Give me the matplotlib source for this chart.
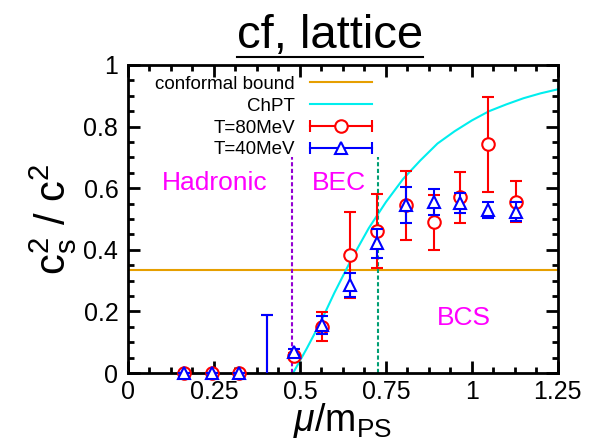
import numpy as np
import matplotlib
matplotlib.use('Agg')
import matplotlib.pyplot as plt
from matplotlib.lines import Line2D
from matplotlib.legend_handler import HandlerLine2D, HandlerTuple
from matplotlib.ticker import MultipleLocator

plt.rcParams['font.family'] = 'Liberation Sans'
plt.rcParams['mathtext.fontset'] = 'custom'
plt.rcParams['mathtext.rm'] = 'Liberation Sans'
plt.rcParams['mathtext.it'] = 'Liberation Sans:italic'

# lattice results, x = mu / m_PS
mu = [0.163, 0.243, 0.324, 0.403, 0.483, 0.565, 0.645, 0.725, 0.807, 0.890, 0.965, 1.047, 1.127]
cs2_80 = [0.0, 0.0, 0.0, -0.10, 0.055, 0.150, 0.383, 0.462, 0.544, 0.489, 0.570, 0.743, 0.556]
err_80 = [0.0, 0.0, 0.0, 0.29, 0.010, 0.047, 0.140, 0.120, 0.112, 0.090, 0.083, 0.154, 0.066]
cs2_40 = [0.0, 0.0, 0.0, -0.10, 0.069, 0.156, 0.286, 0.421, 0.545, 0.556, 0.551, 0.529, 0.524]
err_40 = [0.0, 0.0, 0.0, 0.29, 0.010, 0.030, 0.040, 0.048, 0.059, 0.042, 0.033, 0.026, 0.030]

# chiral perturbation theory curve
mu_chpt = [0.48, 0.52, 0.56, 0.60, 0.65, 0.70, 0.75, 0.80, 0.85, 0.90,
           0.95, 1.00, 1.05, 1.10, 1.15, 1.20, 1.25]
cs2_chpt = [0.0, 0.08, 0.165, 0.26, 0.37, 0.47, 0.555, 0.63, 0.69, 0.745,
            0.785, 0.82, 0.85, 0.872, 0.892, 0.908, 0.921]

conformal = 1.0 / 3.0
hadronic_edge = 0.476
bec_edge = 0.726
edge_top = 0.70

xticks = [0, 0.25, 0.5, 0.75, 1.0, 1.25]
xticklabels = ['0', '0.25', '0.5', '0.75', '1', '1.25']
yticks = [0, 0.2, 0.4, 0.6, 0.8, 1.0]
yticklabels = ['0', '0.2', '0.4', '0.6', '0.8', '1']

c_conf = '#e69f00'
c_chpt = '#00eeee'
c_80 = '#ff0000'
c_40 = '#0000ff'
c_region = '#ff00ff'

fig = plt.figure(figsize=(6.11, 4.42), dpi=100)
ax = fig.add_axes([0.2095, 0.156, 0.7035, 0.697])

ax.axhline(conformal, color=c_conf, lw=1.5, zorder=1)
ax.plot(mu_chpt, cs2_chpt, color=c_chpt, lw=1.5, zorder=1)
ax.plot([hadronic_edge, hadronic_edge], [0, edge_top], color='#9400d3',
        lw=1.5, ls=(0, (2, 1.2)), zorder=1)
ax.plot([bec_edge, bec_edge], [0, edge_top], color='#009e73',
        lw=1.5, ls=(0, (2, 1.2)), zorder=1)

# error bars are clipped, markers at zero sit on the axis
ax.errorbar(mu, cs2_80, yerr=err_80, fmt='none', ecolor=c_80, elinewidth=1.5,
            capsize=4.5, capthick=1.5, zorder=3)
ax.plot(mu, np.ma.masked_less(cs2_80, 0), ls='none', marker='o', ms=9,
        mfc='white', mec=c_80, mew=1.5, clip_on=False, zorder=4)
ax.errorbar(mu, cs2_40, yerr=err_40, fmt='none', ecolor=c_40, elinewidth=1.5,
            capsize=4.5, capthick=1.5, zorder=5)
ax.plot(mu, np.ma.masked_less(cs2_40, 0), ls='none', marker='^', ms=9,
        mfc='white', mec=c_40, mew=1.5, clip_on=False, zorder=6)

ax.text(0.253, 0.617, 'Hadronic', color=c_region, fontsize=19, ha='center', va='center')
ax.text(0.613, 0.617, 'BEC', color=c_region, fontsize=19, ha='center', va='center')
ax.text(0.977, 0.179, 'BCS', color=c_region, fontsize=19, ha='center', va='center')

ax.set_xlim(0, 1.25)
ax.set_ylim(0, 1)
ax.set_xticks(xticks)
ax.set_xticklabels(xticklabels)
ax.set_yticks(yticks)
ax.set_yticklabels(yticklabels)
ax.xaxis.set_minor_locator(MultipleLocator(0.0625))
ax.yaxis.set_minor_locator(MultipleLocator(0.05))
ax.tick_params(which='both', direction='in', top=True, right=True, width=2,
               labelsize=18)
ax.tick_params(which='major', length=8.5, pad=5)
ax.tick_params(which='minor', length=4.5)
ax.tick_params(axis='y', pad=7)
for s in ax.spines.values():
    s.set_linewidth(2)

ax.set_xlabel(r'$\mu$/m$_\mathrm{PS}$', fontsize=27, labelpad=-2)
ax.set_ylabel(r'c$_\mathrm{s}^\mathrm{2}$ / c$^\mathrm{2}$', fontsize=30, labelpad=3.5)

# legend: text on the left, horizontal error bar samples on the right
h_conf = Line2D([], [], color=c_conf, lw=1.5)
h_chpt = Line2D([], [], color=c_chpt, lw=1.5)
cap_80 = Line2D([], [], color=c_80, lw=1.5, marker='|', ms=8, mew=1.5)
pt_80 = Line2D([], [], ls='none', marker='o', ms=9, mfc='white', mec=c_80, mew=1.5)
cap_40 = Line2D([], [], color=c_40, lw=1.5, marker='|', ms=8, mew=1.5)
pt_40 = Line2D([], [], ls='none', marker='^', ms=9, mfc='white', mec=c_40, mew=1.5)
hmap = {cap_80: HandlerLine2D(numpoints=2, marker_pad=0),
        cap_40: HandlerLine2D(numpoints=2, marker_pad=0),
        pt_80: HandlerLine2D(numpoints=1),
        pt_40: HandlerLine2D(numpoints=1)}
ax.legend([h_conf, h_chpt, (cap_80, pt_80), (cap_40, pt_40)],
          ['conformal bound', 'ChPT', 'T=80MeV', 'T=40MeV'],
          handler_map={tuple: HandlerTuple(ndivide=1, pad=0), **hmap},
          loc='upper right', bbox_to_anchor=(0.567, 0.965), frameon=False,
          markerfirst=False, fontsize=13.5, handlelength=3.3,
          handletextpad=0.8, labelspacing=0.25, borderpad=0, borderaxespad=0)

title = fig.text(0.54, 1 - 48 / 442, 'cf, lattice', fontsize=34,
                 ha='center', va='baseline')
fig.canvas.draw()
bb = title.get_window_extent().transformed(fig.transFigure.inverted())
y_ul = 1 - 57 / 442
fig.add_artist(Line2D([bb.x0, bb.x1], [y_ul, y_ul], color='black', lw=1.5,
                      transform=fig.transFigure))

fig.savefig('out.png', dpi=100)
